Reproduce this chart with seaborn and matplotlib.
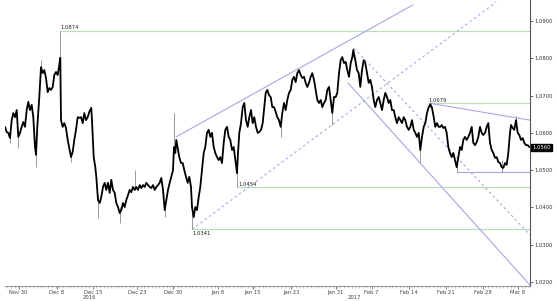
import numpy as np
import pandas as pd
import matplotlib
matplotlib.use("Agg")
import matplotlib.pyplot as plt
from matplotlib.ticker import FixedLocator, MultipleLocator, FormatStrFormatter
import seaborn as sns

# ---------------- data (time index in chart bar units, EUR/USD price) ----------------
t = [5, 6.7, 8.3, 10, 11.7, 13.3, 15, 16.7, 18.3, 20, 21.7, 23.3, 25, 26.7, 28.3, 30, 31.7, 33.3,
     35, 36, 37.3, 39.3, 41, 42.7, 44.3, 46, 47.7, 49.3, 51, 52.7, 54.3, 56, 57.7, 59.3, 60.3,
     61, 62.7, 64.3, 66, 67.7, 69.3, 71, 72.7, 74.3, 76, 77.7, 79.3, 81, 82.7, 84.3, 86, 87.7,
     89.3, 91.3, 92.3, 93.7, 95.3, 96.3, 98, 99.7, 101.3, 103, 104.7, 106.3, 108, 109.7, 111.3,
     113, 114.7, 116.3, 118, 119.7, 121.3, 123, 124.7, 126.3, 128, 129.7, 131.3, 133, 134.7,
     136.3, 138, 139.7, 141.3, 143, 144.7, 146.3, 148, 149.7, 151.3, 153, 154.7, 156.3, 158,
     159.7, 161.3, 163, 164.7, 166.3, 168, 169.7, 171.3, 173, 174, 175.3, 176.3, 178,
     179.3, 181, 182.7, 184.3, 186, 187.7, 189.3, 191, 192, 193.7, 195.3, 197, 198.7, 200.3,
     202, 203.7, 205.3, 207, 208.7, 210.3, 212, 213.7, 215.3, 217, 218.7, 220.3, 222, 223.7,
     225.3, 227, 228.7, 230.3, 232, 233.7, 235.3, 237, 238, 239.3, 241, 242.7, 244.3, 246,
     247.7, 249.3, 251, 252.7, 254.3, 256, 257.7, 259.3, 261, 262.7, 264.3,
     265.7, 267.3, 269, 270.7, 272.3, 274, 275.7, 277.3, 279, 280.7, 282.3, 284, 285.7, 287.3,
     289, 290.7, 292.3, 294, 295.7, 297.3, 299, 300.7, 302.3, 304, 305.7, 307.3, 309, 310.7,
     312.3, 314, 315.7, 317.3, 319, 320.7, 322.3, 324, 325.7, 327.3, 329, 330.7, 332.3, 334,
     335.7, 337.3, 339, 340.7, 342.3, 344, 345.7, 347.3, 349, 350.7, 352.3, 353.3,
     355.3, 357, 358.7, 360.3, 362, 363.7, 365.3, 367, 368.7, 370.3, 372, 373.7, 375.3, 377,
     378.7, 380.3, 382, 383.7, 385.3, 387, 388.7, 390.3, 392, 393.7, 395.3, 397, 398.7, 400.3,
     402, 403.7, 405.3, 407, 408.7, 410.3, 412, 413.7, 415.3, 417, 418.7, 420.3, 422, 423.7,
     425.3, 427, 428.7, 430.3, 432, 433.7, 435.3, 437, 438.7, 440.3,
     441.7, 443.3, 445, 446.7, 448.3, 450, 451.7, 453.3, 455, 456.7, 458.3, 460, 461.7, 463.3,
     465, 466.7, 468.3, 470, 471.7, 473.3, 475, 476.7, 478.3, 480, 481.7, 483.3, 485, 486.7,
     488.3, 490, 491.7, 493.3, 495, 496.7, 498.3, 500, 501.7, 503.3, 505, 506.7, 508.3, 510,
     511, 512.7, 514.3, 516, 517.7, 519.3, 521, 522.7, 524.3, 526, 527.7, 529.3]

price = [1.0616, 1.0602, 1.0600, 1.0586, 1.0634, 1.0653, 1.0642, 1.0661, 1.0589, 1.0600, 1.0616,
         1.0629, 1.0616, 1.0661, 1.0683, 1.0661, 1.0675, 1.0642,
         1.0562, 1.0541, 1.0616, 1.0696, 1.0776, 1.0760, 1.0768, 1.0747, 1.0709, 1.0720, 1.0715,
         1.0723, 1.0755, 1.0763, 1.0755, 1.0782, 1.0801,
         1.0634, 1.0616, 1.0626, 1.0613, 1.0581, 1.0559, 1.0535, 1.0549, 1.0581, 1.0608, 1.0642,
         1.0640, 1.0642, 1.0626, 1.0653, 1.0634, 1.0642,
         1.0656, 1.0667, 1.0616, 1.0535, 1.0508, 1.0482, 1.0420, 1.0412, 1.0428, 1.0455, 1.0466,
         1.0447, 1.0466, 1.0439, 1.0474,
         1.0447, 1.0439, 1.0412, 1.0401, 1.0385, 1.0393, 1.0412, 1.0401, 1.0420, 1.0433, 1.0447,
         1.0441, 1.0455, 1.0447,
         1.0455, 1.0447, 1.0460, 1.0452, 1.0460, 1.0455, 1.0466, 1.0460, 1.0455, 1.0452, 1.0460,
         1.0447, 1.0455, 1.0460,
         1.0466, 1.0479, 1.0447, 1.0393, 1.0420, 1.0447, 1.0466, 1.0482, 1.0500, 1.0562, 1.0546,
         1.0581, 1.0554,
         1.0535, 1.0519, 1.0519, 1.0500, 1.0482, 1.0466, 1.0482, 1.0455, 1.0401, 1.0374, 1.0401,
         1.0393, 1.0428, 1.0455,
         1.0500, 1.0546, 1.0562, 1.0600, 1.0608, 1.0589, 1.0600, 1.0562, 1.0546, 1.0535, 1.0527,
         1.0535, 1.0519, 1.0573,
         1.0608, 1.0616, 1.0589, 1.0581, 1.0554, 1.0562, 1.0527, 1.0492, 1.0546, 1.0600, 1.0626,
         1.0669, 1.0680, 1.0634,
         1.0616, 1.0642, 1.0661, 1.0626, 1.0642, 1.0616, 1.0600, 1.0602, 1.0608, 1.0626, 1.0669,
         1.0707, 1.0715, 1.0701, 1.0696, 1.0669, 1.0669, 1.0656, 1.0642, 1.0634, 1.0616, 1.0653,
         1.0680, 1.0661, 1.0688,
         1.0707, 1.0715, 1.0742, 1.0750, 1.0736, 1.0760, 1.0768, 1.0755, 1.0747, 1.0750, 1.0734,
         1.0723, 1.0734, 1.0750,
         1.0760, 1.0742, 1.0715, 1.0688, 1.0680, 1.0688, 1.0669, 1.0680, 1.0688, 1.0715, 1.0723,
         1.0688, 1.0653, 1.0696,
         1.0696, 1.0707, 1.0760, 1.0795, 1.0803, 1.0787, 1.0790, 1.0768, 1.0750, 1.0787, 1.0803,
         1.0822,
         1.0795, 1.0768, 1.0760, 1.0723, 1.0768, 1.0795, 1.0787, 1.0760, 1.0734, 1.0742, 1.0723,
         1.0688, 1.0669, 1.0688,
         1.0696, 1.0680, 1.0661, 1.0688, 1.0707, 1.0696, 1.0680, 1.0688, 1.0661, 1.0661, 1.0642,
         1.0626, 1.0642, 1.0634,
         1.0626, 1.0642, 1.0634, 1.0616, 1.0608, 1.0616, 1.0634, 1.0608, 1.0600, 1.0589, 1.0600,
         1.0554, 1.0589, 1.0616,
         1.0626, 1.0653, 1.0669, 1.0677, 1.0667, 1.0642, 1.0616, 1.0626, 1.0616, 1.0616,
         1.0621, 1.0613, 1.0616, 1.0600, 1.0562, 1.0546, 1.0535, 1.0546, 1.0527, 1.0508, 1.0535,
         1.0562, 1.0554, 1.0581,
         1.0589, 1.0581, 1.0589, 1.0600, 1.0616, 1.0573, 1.0567, 1.0575, 1.0589, 1.0616, 1.0600,
         1.0594, 1.0600, 1.0616,
         1.0626, 1.0573, 1.0554, 1.0546, 1.0533, 1.0535, 1.0522, 1.0519, 1.0508, 1.0506, 1.0519,
         1.0514, 1.0546, 1.0600,
         1.0621, 1.0613, 1.0608, 1.0634, 1.0600, 1.0594, 1.0581, 1.0586, 1.0573, 1.0567, 1.0567,
         1.0562]

# high / low spikes (wicks)
wick_t = [10, 18.3, 36, 41, 60.3, 71, 98, 119.7, 134.7, 164.7, 174, 192, 237, 280.7, 332.3,
          353.3, 420.3, 430.3, 456.7, 501.7, 516]
wick_hi = [1.0600, 1.0589, 1.0554, 1.0795, 1.0874, 1.0549, 1.0433, 1.0401, 1.0500, 1.0407,
           1.0653, 1.0407, 1.0500, 1.0621, 1.0661, 1.0827, 1.0567, 1.0679, 1.0527, 1.0527, 1.0645]
wick_lo = [1.0573, 1.0559, 1.0508, 1.0776, 1.0795, 1.0522, 1.0372, 1.0358, 1.0447, 1.0374,
           1.0554, 1.0341, 1.0454, 1.0589, 1.0621, 1.0803, 1.0522, 1.0667, 1.0495, 1.0495, 1.0621]

# key levels (start time, price, label)
level_t = [60.3, 430.3, 237, 192]
level_p = [1.0874, 1.0679, 1.0454, 1.0341]
level_lbl = ["1.0874", "1.0679", "1.0454", "1.0341"]

# trend lines: (t0, p0, t1, p1)
solid_lines = [(176, 1.0589, 413, 1.0943),      # upper channel
               (348, 1.0734, 530, 1.0192),      # down-channel lower edge
               (430.3, 1.0679, 530, 1.0634),    # resistance
               (456.7, 1.0495, 530, 1.0495)]    # support
dashed_lines = [(192, 1.0341, 496, 1.0950),     # lower channel
                (354, 1.0827, 530, 1.0326)]     # down-channel upper edge

tick_pos = [18.5, 56.5, 93.3, 136.7, 173.3, 217.5, 252.5, 291, 335.5, 371.5, 409, 446, 482.5, 518]
tick_lbl = ["Nov 30", "Dec 8", "Dec 15", "Dec 23", "Dec 30", "Jan 8", "Jan 15", "Jan 23",
            "Jan 31", "Feb 7", "Feb 14", "Feb 21", "Feb 28", "Mar 8"]
year_pos = [89, 354]
year_lbl = ["2016", "2017"]
last_price = 1.0560

# ---------------- plotting ----------------
sns.set_theme(style="white")
plt.rcParams["font.family"] = ["DejaVu Sans"]

fig = plt.figure(figsize=(5.57, 3.01), dpi=100)
ax = fig.add_axes([5 / 557, 15 / 301, 525 / 557, 286 / 301])

GREEN = "#b5e0bb"
PURPLE = "#a6a6e6"

t_max = 530
for lt, lp, lbl in zip(level_t, level_p, level_lbl):
    ax.plot([lt, t_max], [lp, lp], color=GREEN, lw=0.9, zorder=1)

for (a, b, c, d) in solid_lines:
    ax.plot([a, c], [b, d], color=PURPLE, lw=0.8, zorder=2)
for (a, b, c, d) in dashed_lines:
    ax.plot([a, c], [b, d], color=PURPLE, lw=0.8, ls=(0, (2.2, 2.6)), zorder=2)

ax.vlines(wick_t, wick_lo, wick_hi, color="#8a8a8a", lw=0.6, zorder=3)

df = pd.DataFrame({"t": t, "price": price})
sns.lineplot(data=df, x="t", y="price", ax=ax, color="black", lw=1.3, sort=False,
             estimator=None, zorder=4)

# level labels
fs = 3.8
ax.text(level_t[0] + 0.5, level_p[0] + 0.0002, level_lbl[0], fontsize=fs, ha="left", va="bottom", color="#222222")
ax.text(level_t[1] - 1.5, level_p[1] + 0.0002, level_lbl[1], fontsize=fs, ha="left", va="bottom", color="#222222")
ax.text(level_t[2] + 1, level_p[2] + 0.0002, level_lbl[2], fontsize=fs, ha="left", va="bottom", color="#222222")
ax.text(level_t[3] + 0.5, level_p[3] - 0.0003, level_lbl[3], fontsize=fs, ha="left", va="top", color="#222222")

ax.set_xlim(5, t_max)
ax.set_ylim(1.01895, 1.0956)

# axes styling
for s in ["top", "left"]:
    ax.spines[s].set_visible(False)
ax.spines["bottom"].set_color("#9a9a9a")
ax.spines["right"].set_color("#555555")
ax.spines["bottom"].set_linewidth(0.8)
ax.spines["right"].set_linewidth(0.8)

ax.yaxis.tick_right()
ax.yaxis.set_major_locator(MultipleLocator(0.01))
ax.yaxis.set_major_formatter(FormatStrFormatter("%.4f"))
ax.tick_params(axis="y", which="major", direction="out", length=2, width=0.5, pad=1.5,
               labelsize=fs, colors="#333333", right=True, left=False)

ax.xaxis.set_major_locator(FixedLocator(tick_pos))
ax.set_xticklabels(tick_lbl)
ax.xaxis.set_minor_locator(MultipleLocator(3.7))
ax.tick_params(axis="x", which="major", direction="out", length=2, width=0.5, pad=0.8,
               labelsize=fs, colors="#444444", bottom=True)
ax.tick_params(axis="x", which="minor", direction="out", length=1.2, width=0.4,
               colors="#9a9a9a", bottom=True)
ax.set_xlabel("")
ax.set_ylabel("")
ax.grid(False)

for yp, yl in zip(year_pos, year_lbl):
    ax.text(yp, -0.032, yl, transform=ax.get_xaxis_transform(), fontsize=fs,
            ha="center", va="top", color="#444444")

ax.annotate(f"{last_price:.4f}", xy=(1.0, last_price), xycoords=("axes fraction", "data"),
            xytext=(1.5, 0), textcoords="offset points", fontsize=fs, color="white",
            ha="left", va="center",
            bbox=dict(boxstyle="square,pad=0.2", fc="black", ec="black"), annotation_clip=False)

fig.savefig("out.png", dpi=100, facecolor="white")
